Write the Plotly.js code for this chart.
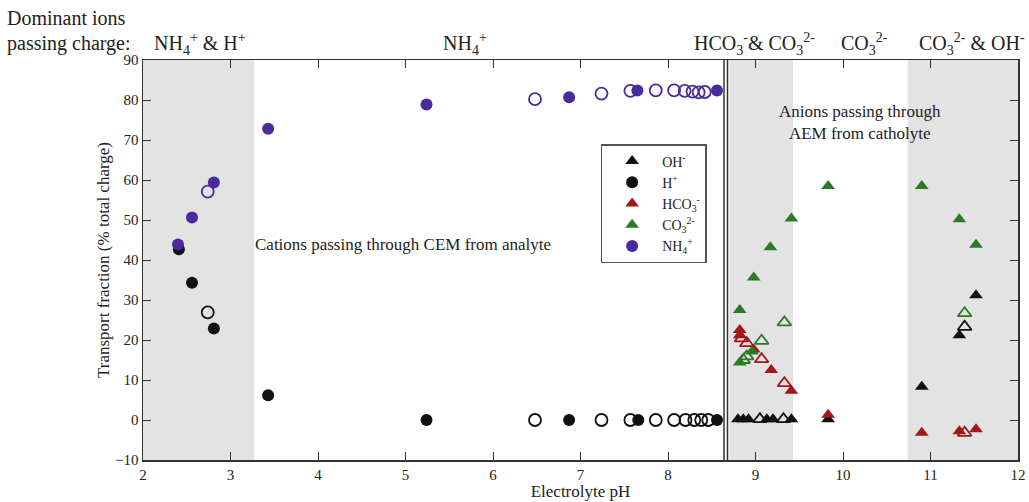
<!DOCTYPE html>
<html>
<head>
<meta charset="utf-8">
<script src="https://cdn.plot.ly/plotly-3.0.1.min.js"></script>
<style>html,body{margin:0;padding:0;background:#fff;}#chart{width:1029px;height:502px;}</style>
</head>
<body>
<div id="chart"></div>
<script>
// ---- data (electrolyte pH, transport fraction %) ----
const nh4FilledPH  = [2.40, 2.56, 2.81, 3.43, 5.24, 6.87, 7.65, 8.56];
const nh4FilledVal = [43.9, 50.6, 59.4, 72.8, 78.9, 80.7, 82.4, 82.4];
const nh4OpenPH    = [2.74, 6.48, 7.24, 7.57, 7.86, 8.07, 8.19, 8.28, 8.35, 8.42];
const nh4OpenVal   = [57.1, 80.2, 81.6, 82.3, 82.4, 82.4, 82.3, 82.1, 81.9, 82.0];

const hFilledPH  = [2.41, 2.56, 2.81, 3.43, 5.24, 6.87, 7.66, 8.56];
const hFilledVal = [42.7, 34.3, 22.9, 6.2, 0, 0, 0, 0];
const hOpenPH    = [2.74, 6.48, 7.24, 7.57, 7.86, 8.07, 8.20, 8.30, 8.38, 8.46];
const hOpenVal   = [26.9, 0, 0, 0, 0, 0, 0, 0, 0, 0];

const ohFilledPH  = [8.80, 8.86, 8.92, 9.13, 9.20, 9.41, 9.83, 10.90, 11.33, 11.52];
const ohFilledVal = [0.2, 0.2, 0.2, 0.2, 0.2, 0.2, 0.2, 8.3, 21.2, 31.2];
const ohOpenPH    = [9.05, 9.32, 11.39];
const ohOpenVal   = [0.2, 0.2, 23.3];

const hco3FilledPH  = [8.82, 8.82, 8.98, 9.18, 9.41, 9.83, 10.90, 11.33, 11.52];
const hco3FilledVal = [22.5, 21.2, 17.6, 12.5, 7.3, 1.3, -3.2, -2.8, -2.3];
const hco3OpenPH    = [8.84, 8.90, 9.07, 9.33, 11.39];
const hco3OpenVal   = [20.4, 19.2, 15.2, 9.2, -3.2];

const co3FilledPH  = [8.82, 8.96, 8.82, 8.98, 9.17, 9.41, 9.83, 10.90, 11.33, 11.52];
const co3FilledVal = [14.4, 17.1, 27.5, 35.6, 43.2, 50.4, 58.5, 58.5, 50.2, 43.8];
const co3OpenPH    = [8.86, 8.90, 9.07, 9.33, 11.39];
const co3OpenVal   = [15.0, 15.9, 19.8, 24.4, 26.7];

// shaded pH regions and membrane divider
const shadeStart = [2.0, 8.70, 10.74];
const shadeEnd   = [3.27, 9.43, 12.0];
const dividerPH  = [8.64, 8.68];

// header labels (dominant ions)
const headerText = ['NH<sub>4</sub><sup>+</sup> & H<sup>+</sup>', 'NH<sub>4</sub><sup>+</sup>',
                    'HCO<sub>3</sub><sup>-</sup>& CO<sub>3</sub><sup>2-</sup>', 'CO<sub>3</sub><sup>2-</sup>'];
const headerPH   = [2.65, 5.68, 8.99, 10.25];

const cBlack = '#111111', cRed = '#a3161a', cGreen = '#2b7a25', cPurple = '#4a2a9c';
const FONT = '"Liberation Serif", "Times New Roman", serif';
const ms = 12;

function tr(x, y, name, color, symbol, show) {
  return {x: x, y: y, type: 'scatter', mode: 'markers', name: name, showlegend: show,
    marker: {color: color, symbol: symbol, size: ms,
      line: {color: color, width: symbol.indexOf('open') >= 0 ? 1.8 : 0}}};
}

const data = [
  tr(ohFilledPH, ohFilledVal, 'OH<sup>-</sup>', cBlack, 'triangle-up', true),
  tr(hFilledPH, hFilledVal, 'H<sup>+</sup>', cBlack, 'circle', true),
  tr(hco3FilledPH, hco3FilledVal, 'HCO<sub>3</sub><sup>-</sup>', cRed, 'triangle-up', true),
  tr(co3FilledPH, co3FilledVal, 'CO<sub>3</sub><sup>2-</sup>', cGreen, 'triangle-up', true),
  tr(nh4FilledPH, nh4FilledVal, 'NH<sub>4</sub><sup>+</sup>', cPurple, 'circle', true),
  tr(ohOpenPH, ohOpenVal, 'OH- open', cBlack, 'triangle-up-open', false),
  tr(hOpenPH, hOpenVal, 'H+ open', cBlack, 'circle-open', false),
  tr(hco3OpenPH, hco3OpenVal, 'HCO3 open', cRed, 'triangle-up-open', false),
  tr(co3OpenPH, co3OpenVal, 'CO3 open', cGreen, 'triangle-up-open', false),
  tr(nh4OpenPH, nh4OpenVal, 'NH4 open', cPurple, 'circle-open', false)
];

const shapes = [];
for (let i = 0; i < shadeStart.length; i++) {
  shapes.push({type: 'rect', xref: 'x', yref: 'paper', x0: shadeStart[i], x1: shadeEnd[i], y0: 0, y1: 1,
    fillcolor: '#e3e3e3', line: {width: 0}, layer: 'below'});
}
dividerPH.forEach(p => shapes.push({type: 'line', xref: 'x', yref: 'paper', x0: p, x1: p, y0: 0, y1: 1,
  line: {color: '#333', width: 1.5}}));

const annotations = [
  {xref: 'paper', yref: 'paper', x: -0.158, y: 1.105, xanchor: 'left', yanchor: 'middle', showarrow: false,
   text: 'Dominant ions', font: {family: FONT, size: 20, color: '#222'}},
  {xref: 'paper', yref: 'paper', x: -0.158, y: 1.04, xanchor: 'left', yanchor: 'middle', showarrow: false,
   text: 'passing charge:', font: {family: FONT, size: 20, color: '#222'}},
  {xref: 'paper', yref: 'paper', x: 1.0103, y: 1.04, xanchor: 'right', yanchor: 'middle', showarrow: false,
   text: 'CO<sub>3</sub><sup>2-</sup> & OH<sup>-</sup>', font: {family: FONT, size: 20, color: '#222'}},
  {xref: 'x', yref: 'y', x: 3.26, y: 43.8, xanchor: 'left', yanchor: 'middle', showarrow: false,
   text: 'Cations passing through CEM from analyte', font: {family: FONT, size: 17, color: '#222'}},
  {xref: 'x', yref: 'y', x: 10.19, y: 74.4, xanchor: 'center', yanchor: 'middle', showarrow: false,
   text: 'Anions passing through<br>AEM from catholyte', font: {family: FONT, size: 17, color: '#222'}}
];
headerText.forEach((t, i) => annotations.push({xref: 'x', yref: 'paper', x: headerPH[i], y: 1.04,
  xanchor: 'center', yanchor: 'middle', showarrow: false, text: t, font: {family: FONT, size: 20, color: '#222'}}));

const layout = {
  width: 1029, height: 502,
  margin: {l: 143, r: 11, t: 60, b: 42},
  paper_bgcolor: '#fff', plot_bgcolor: '#fff',
  font: {family: FONT, color: '#222'},
  showlegend: true,
  legend: {x: 0.523, y: 0.79, xanchor: 'left', yanchor: 'top', bgcolor: '#fff',
    bordercolor: '#555', borderwidth: 1.5, font: {family: FONT, size: 14, color: '#222'},
    itemwidth: 50, tracegroupgap: 2},
  xaxis: {range: [2, 12], dtick: 1, tick0: 2, ticks: 'inside', ticklen: 8, tickcolor: '#333',
    showline: true, linecolor: '#333', linewidth: 1.5, mirror: 'ticks', showgrid: false, zeroline: false,
    tickfont: {family: FONT, size: 15, color: '#222'},
    title: {text: 'Electrolyte pH', font: {family: FONT, size: 17, color: '#222'}, standoff: 2}},
  yaxis: {range: [-10, 90], dtick: 10, ticks: 'inside', ticklen: 8, tickcolor: '#333',
    showline: true, linecolor: '#333', linewidth: 1.5, mirror: 'ticks', showgrid: false, zeroline: false,
    tickfont: {family: FONT, size: 15, color: '#222'},
    title: {text: 'Transport fraction (% total charge)', font: {family: FONT, size: 17, color: '#222'}, standoff: 1}},
  shapes: shapes,
  annotations: annotations
};

Plotly.newPlot('chart', data, layout, {displayModeBar: false, staticPlot: true});
</script>
</body>
</html>
